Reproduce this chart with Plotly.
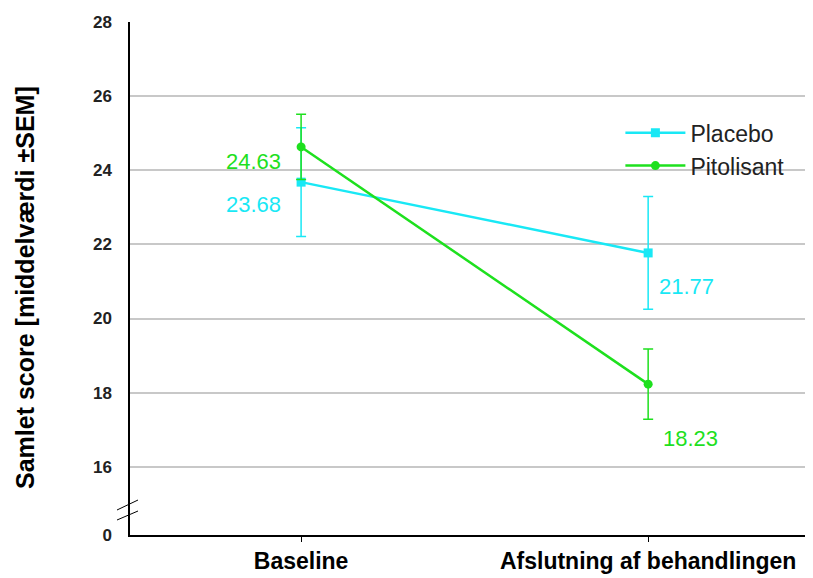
import plotly.graph_objects as go

categories = ["Baseline", "Afslutning af behandlingen"]
placebo_mean = [23.68, 21.77]
placebo_sem = [1.47, 1.52]
pitolisant_mean = [24.63, 18.23]
pitolisant_sem = [0.88, 0.95]
y_tick_values = [16, 18, 20, 22, 24, 26, 28]
y_break_label = "0"
y_title = "Samlet score [middelværdi ±SEM]"

CYAN = "#19E8F5"
GREEN = "#1EE01E"
FONT = "Arial, Liberation Sans, sans-serif"

ZERO_POS = 14.16  # display position of the broken-axis "0"
xs = list(range(len(categories)))

PW, PH = 683, 513  # plot area size in px

fig = go.Figure()
fig.add_trace(go.Scatter(
    x=xs, y=placebo_mean, name="Placebo", mode="lines+markers",
    line=dict(color=CYAN, width=2.5),
    marker=dict(symbol="square", size=9, color=CYAN),
    error_y=dict(type="data", array=placebo_sem, color=CYAN, thickness=1.5, width=5),
))
fig.add_trace(go.Scatter(
    x=xs, y=pitolisant_mean, name="Pitolisant", mode="lines+markers",
    line=dict(color=GREEN, width=2.5),
    marker=dict(symbol="circle", size=9, color=GREEN),
    error_y=dict(type="data", array=pitolisant_sem, color=GREEN, thickness=1.5, width=5),
))

# value labels
label_specs = [
    (0, pitolisant_mean[0], GREEN, "right", -18, -15),
    (0, placebo_mean[0], CYAN, "right", -18, -22),
    (1, placebo_mean[1], CYAN, "left", 9, -34),
    (1, pitolisant_mean[1], GREEN, "left", 13, -54),
]
for x, v, c, anc, dx, dy in label_specs:
    fig.add_annotation(x=x, y=v, text=f"{v:.2f}", showarrow=False,
                       xanchor=anc, yanchor="middle", xshift=dx, yshift=dy,
                       font=dict(family=FONT, size=22, color=c))

# y-axis title
fig.add_annotation(xref="paper", yref="paper", x=(25 - 130) / PW, y=(535 - 288) / PH,
                   text=y_title, textangle=-90, showarrow=False,
                   xanchor="center", yanchor="middle",
                   font=dict(family=FONT, size=25, color="black", weight="bold"))

# axis break marks
for (x0, y0, x1, y1) in [(117, 510, 138, 500), (117, 520, 138, 511)]:
    fig.add_shape(type="line", xref="paper", yref="paper",
                  x0=(x0 - 130) / PW, x1=(x1 - 130) / PW,
                  y0=(535 - y0) / PH, y1=(535 - y1) / PH,
                  line=dict(color="black", width=1))

fig.update_layout(
    width=805, height=570,
    margin=dict(l=122, r=0, t=14, b=43),
    paper_bgcolor="white", plot_bgcolor="white",
    showlegend=True,
    legend=dict(x=0.718, y=0.826, xanchor="left", yanchor="top",
                font=dict(family=FONT, size=23, color="#222"),
                bgcolor="rgba(0,0,0,0)", itemwidth=60, tracegroupgap=0),
    xaxis=dict(range=[-0.493, 1.475], tickvals=xs, ticktext=categories,
               showgrid=False, zeroline=False, showline=True, linecolor="black", linewidth=1.5,
               ticks="outside", ticklen=5, tickcolor="black",
               tickfont=dict(family=FONT, size=23, color="black", weight="bold")),
    yaxis=dict(range=[ZERO_POS, 28],
               tickvals=[ZERO_POS] + y_tick_values,
               ticktext=[y_break_label] + [str(v) for v in y_tick_values],
               showgrid=True, gridcolor="#C8C8C8", gridwidth=1.5,
               zeroline=False, showline=True, linecolor="black", linewidth=1.5,
               ticks="", ticklabelstandoff=13,
               tickfont=dict(family=FONT, size=17, color="#222", weight="bold")),
)

fig.write_html("out.html")
